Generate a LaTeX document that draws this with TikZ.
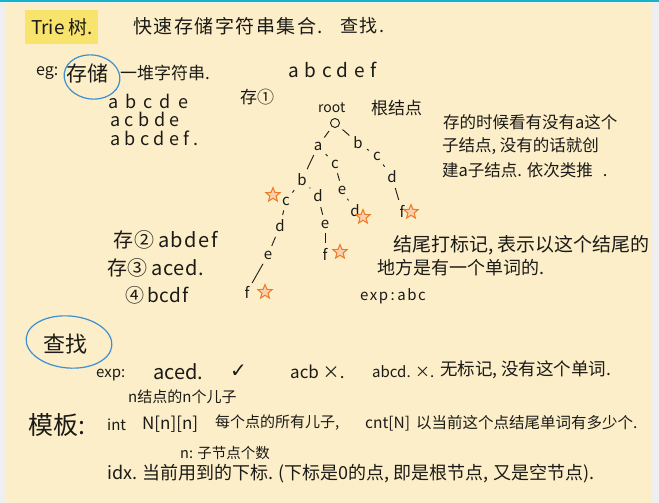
\documentclass[tikz,border=0pt]{standalone}
\usepackage{fontspec}
\setmainfont{Noto Sans CJK SC}
\newfontfamily\symfont{DejaVu Sans}
\usetikzlibrary{shapes.geometric}
\definecolor{paper}{HTML}{FBEEC8}
\definecolor{edge}{HTML}{EFEFEF}
\definecolor{topbar}{HTML}{17B4C9}
\definecolor{ink}{HTML}{1C1A17}
\definecolor{pen}{HTML}{3C8FD2}
\definecolor{hilite}{HTML}{F8E46C}
\definecolor{starc}{HTML}{F07A22}
\newcommand{\fs}[1]{\fontsize{#1}{#1}\selectfont}
\newcommand{\ls}[1]{\addfontfeature{LetterSpace=#1}}
\begin{document}
\begin{tikzpicture}[x=1pt,y=-1pt,
  txt/.style={text=ink, inner sep=0pt, anchor=west, font=\fs{16}},
  lt/.style={text=ink, inner sep=0pt, font=\fs{15}},
  tedge/.style={draw=ink, line width=0.9pt, shorten <=5pt, shorten >=5pt},
  endstar/.style={star, star points=5, star point ratio=2.3, minimum size=15pt, inner sep=0pt, draw=starc, fill=starc!35, line width=1pt},
  ring/.style={draw=pen, line width=1.2pt}]
% paper
\fill[edge] (0,0) rectangle (659,503);
\fill[paper] (6,3) rectangle (652,503);
\fill[topbar] (0,0) rectangle (659,2.5);
\useasboundingbox (0,0) rectangle (659,503);

% title
\fill[hilite] (25,10) rectangle (98,44);
\node[txt, font=\fs{19}] (title) at (31,27) {Trie 树.};
\node[txt, font=\fs{19}\ls{8}] (t2) at (133,26) {快速存储字符串集合.};
\node[txt, font=\fs{18}\ls{8}] (t3) at (340,26) {查找.};

% example
\node[txt, font=\fs{16}] (eg) at (36,73) {eg:};
\node[txt, font=\fs{21}] (cc) at (66,73) {存储};
\draw[ring, rotate around={-8:(92,77)}] (92,77) ellipse (28pt and 22pt);
\node[txt, font=\fs{17}] (dui) at (120,73) {一堆字符串.};
\node[txt, font=\fs{18}\ls{40}] (w1) at (108,101) {abcde};
\node[txt, font=\fs{18}\ls{25}] (w2) at (110,119) {acbde};
\node[txt, font=\fs{18}\ls{25}] (w3) at (110,138) {abcdef.};
\node[txt, font=\fs{17}] (s1) at (240,97) {存①};
\node[txt, font=\fs{19}\ls{30}] (s1w) at (288,70) {abcdef};

% tree
\node[draw=ink, circle, line width=0.9pt, minimum size=9pt, inner sep=0pt] (root) at (335,123) {};
\node[txt, font=\fs{14}] (rootl) at (318,108) {root};
\node[txt, font=\fs{17}] (rootc) at (371,108) {根结点};
\node[lt] (a1) at (318,146) {a};
\node[lt] (b1) at (358,143) {b};
\node[lt] (c1) at (377,156) {c};
\node[lt] (d1) at (392,177) {d};
\node[lt] (f1) at (402,211) {f};
\node[lt] (b2) at (302,180) {b};
\node[lt] (c2) at (335,164) {c};
\node[lt] (c3) at (286,201) {c};
\node[lt] (d3) at (280,226) {d};
\node[lt] (e3) at (268,255) {e};
\node[lt] (f3) at (247,292) {f};
\node[lt] (d4) at (318,196) {d};
\node[lt] (e4) at (325,224) {e};
\node[lt] (f4) at (325,254) {f};
\node[lt] (e5) at (342,190) {e};
\node[lt] (d5) at (355,211) {d};
\draw[tedge] (root) -- (a1);
\draw[tedge] (root) -- (b1);
\draw[tedge] (b1) -- (c1);
\draw[tedge] (c1) -- (d1);
\draw[tedge] (d1) -- (f1);
\draw[tedge] (a1) -- (b2);
\draw[tedge] (a1) -- (c2);
\draw[tedge] (b2) -- (c3);
\draw[tedge] (b2) -- (d4);
\draw[tedge] (c3) -- (d3);
\draw[tedge] (d3) -- (e3);
\draw[tedge] (e3) -- (f3);
\draw[tedge] (d4) -- (e4);
\draw[tedge] (e4) -- (f4);
\draw[tedge] (c2) -- (e5);
\draw[tedge] (e5) -- (d5);
\node[endstar] (m1) at (273,195) {};
\node[endstar] (m2) at (265,292) {};
\node[endstar] (m3) at (340,252) {};
\node[endstar] (m4) at (363,217) {};
\node[endstar] (m5) at (411,212) {};

% explanation right
\node[txt, font=\fs{16.5}] (p1) at (443,122) {存的时候看有没有a这个};
\node[txt, font=\fs{16.5}] (p2) at (442,146) {子结点, 没有的话就创};
\node[txt, font=\fs{16.5}] (p3) at (442,170) {建a子结点. 依次类推\hspace{10pt}.};

% more words
\node[txt, font=\fs{20}\ls{8}] (s2) at (113,240) {存②\,abdef};
\node[txt, font=\fs{20}\ls{4}] (s3) at (107,268) {存③\,aced.};
\node[txt, font=\fs{19}\ls{4}] (s4) at (125,295) {④\,bcdf};

\node[txt, font=\fs{19}] (q1) at (393,245) {结尾打标记, 表示以这个结尾的};
\node[txt, font=\fs{18}] (q2) at (377,268) {地方是有一个单词的.};
\node[txt, font=\fs{15}\ls{10}] (q3) at (360,296) {exp\,:\,abc};

% search
\node[txt, font=\fs{22}] (cz) at (43,344) {查找};
\draw[ring, rotate around={-5:(69,342)}] (69,342) ellipse (43pt and 26pt);
\node[txt, font=\fs{15}] (ex) at (96,375) {exp:};
\node[txt, font=\fs{20}] (ex1) at (153,372) {aced.};
\node[txt, font=\fs{20}] (ex2) at (230,371) {\symfont ✓};
\node[txt, font=\fs{17}] (ex3) at (290,372) {acb ×.};
\node[txt, font=\fs{15}] (ex4) at (372,372) {abcd. ×.};
\node[txt, font=\fs{17.5}] (ex5) at (440,370) {无标记, 没有这个单词.};

% template
\node[txt, font=\fs{15}] (n1) at (128,397) {n结点的n个儿子};
\node[txt, font=\fs{25}] (mb) at (28,425) {模板:};
\node[txt, font=\fs{15}] (int) at (107,425) {int};
\node[txt, font=\fs{17}] (arr) at (142,424) {N[n][n]};
\node[txt, font=\fs{15}] (arrd) at (215,423) {每个点的所有儿子,};
\node[txt, font=\fs{15.5}] (cnt) at (365,423) {cnt[N]\, 以当前这个点结尾单词有多少个.};
\node[txt, font=\fs{14.5}] (n2) at (180,453) {n: 子节点个数};
\node[txt, font=\fs{18}] (idx) at (107,474) {idx. 当前用到的下标. (下标是0的点, 即是根节点, 又是空节点).};
\end{tikzpicture}
\end{document}
